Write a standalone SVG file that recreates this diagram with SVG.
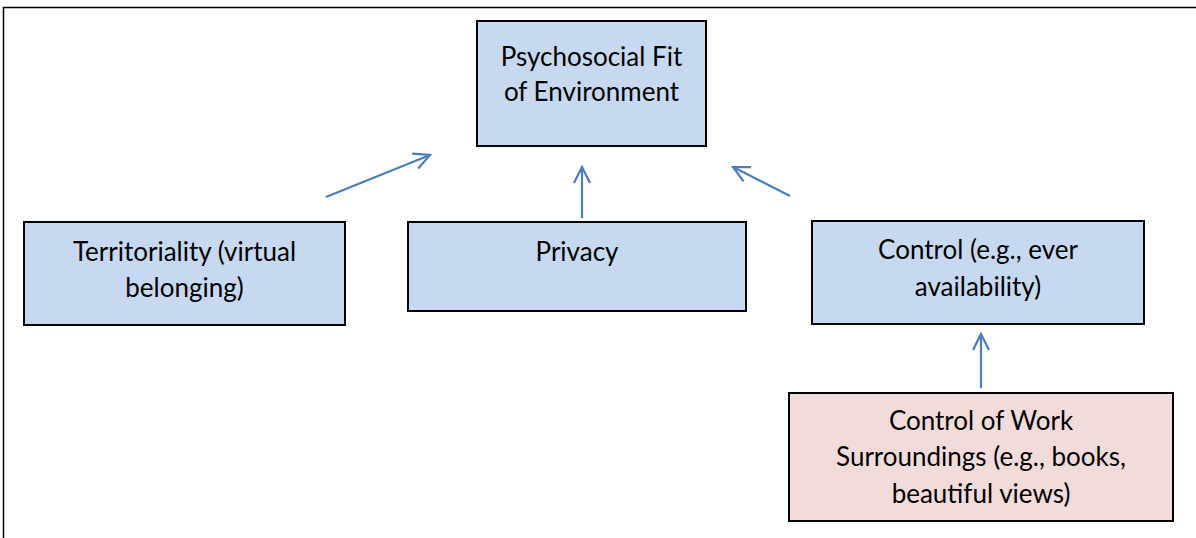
<svg xmlns="http://www.w3.org/2000/svg" width="1196" height="538" viewBox="0 0 1196 538">
<defs>
<style>
.frame{fill:none;stroke:#000;stroke-width:1.5}
.box{stroke:#000;stroke-width:2}
.blue{fill:#c6d9f1}
.pink{fill:#f2dcdb}
.t{font-family:Lato,"Liberation Sans",sans-serif;font-size:26px;fill:#000;text-anchor:middle}
.c{fill:none;stroke:#4a7ebb;stroke-width:2.2}
</style>
<marker id="ah" viewBox="0 0 20 20" refX="18" refY="10" markerWidth="20" markerHeight="20" markerUnits="userSpaceOnUse" orient="auto">
<path d="M2,2 L18,10 L2,18" fill="none" stroke="#4a7ebb" stroke-width="2.2"/>
</marker>
</defs>
<rect x="0" y="0" width="1196" height="538" fill="#fff"/>
<path class="frame" d="M3.5,538 V7.5 H1196"/>
<g id="psychosocial">
<rect class="box blue" x="477" y="21" width="229" height="125"/>
<text class="t" x="591.5" y="66">Psychosocial Fit</text>
<text class="t" x="591.5" y="101">of Environment</text>
</g>
<g id="territoriality">
<rect class="box blue" x="24" y="222" width="321" height="103"/>
<text class="t" x="184.5" y="261">Territoriality (virtual</text>
<text class="t" x="184.5" y="297">belonging)</text>
</g>
<g id="privacy">
<rect class="box blue" x="408" y="222" width="338" height="89"/>
<text class="t" x="577" y="261">Privacy</text>
</g>
<g id="control">
<rect class="box blue" x="812" y="221" width="332" height="103"/>
<text class="t" x="978" y="259">Control (e.g., ever</text>
<text class="t" x="978" y="296">availability)</text>
</g>
<g id="work-surroundings">
<rect class="box pink" x="789" y="393" width="384" height="128"/>
<text class="t" x="981" y="430">Control of Work</text>
<text class="t" x="981" y="466">Surroundings (e.g., books,</text>
<text class="t" x="981" y="503">beautiful views)</text>
</g>
<g id="connectors">
<line class="c" x1="326" y1="197" x2="430" y2="155" marker-end="url(#ah)"/>
<line class="c" x1="582" y1="218" x2="582" y2="167" marker-end="url(#ah)"/>
<line class="c" x1="790" y1="196" x2="733" y2="167" marker-end="url(#ah)"/>
<line class="c" x1="981" y1="388" x2="981" y2="334" marker-end="url(#ah)"/>
</g>
</svg>
